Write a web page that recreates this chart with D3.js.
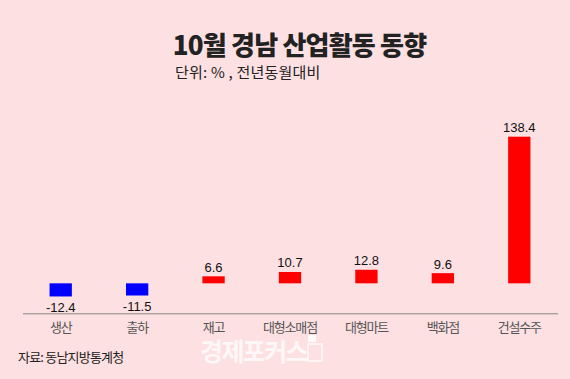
<!DOCTYPE html>
<html>
<head>
<meta charset="utf-8">
<script src="https://d3js.org/d3.v7.min.js"></script>
<style>
body { margin: 0; background: #fde0e1; }
svg { display: block; font-family: "Noto Sans CJK KR", "Noto Sans", sans-serif; }
</style>
</head>
<body>
<script>
var width = 570, height = 379;

var categories = ["생산", "출하", "재고", "대형소매점", "대형마트", "백화점", "건설수주"];
var values = [-12.4, -11.5, 6.6, 10.7, 12.8, 9.6, 138.4];

var svg = d3.select("body").append("svg")
  .attr("width", width)
  .attr("height", height);

svg.append("rect")
  .attr("width", width).attr("height", height)
  .attr("fill", "#fde0e1");

// title
svg.append("text")
  .attr("x", 299.5).attr("y", 55)
  .attr("text-anchor", "middle")
  .attr("font-size", 26)
  .attr("font-weight", 900)
  .attr("letter-spacing", -0.8)
  .attr("fill", "#222")
  .text("10월 경남 산업활동 동향");

svg.append("text")
  .attr("x", 175).attr("y", 78)
  .attr("font-size", 15)
  .attr("letter-spacing", 0.2)
  .attr("fill", "#222")
  .text("단위: % , 전년동월대비");

var x = d3.scaleBand()
  .domain(categories)
  .range([22.5, 557.5])
  .paddingInner(0.708)
  .paddingOuter(0.354);

var y = d3.scaleLinear()
  .domain([-28.3, 138.4])
  .range([313.3, 136.7]);

var g = svg.append("g");

g.selectAll("rect.bar")
  .data(values)
  .enter()
  .append("rect")
  .attr("class", "bar")
  .attr("x", function(d, i) { return x(categories[i]); })
  .attr("width", x.bandwidth())
  .attr("y", function(d) { return y(Math.max(0, d)); })
  .attr("height", function(d) { return Math.abs(y(d) - y(0)); })
  .attr("fill", function(d) { return d < 0 ? "#0000ff" : "#ff0000"; });

g.selectAll("text.val")
  .data(values)
  .enter()
  .append("text")
  .attr("class", "val")
  .attr("x", function(d, i) { return x(categories[i]) + x.bandwidth() / 2; })
  .attr("y", function(d) { return d < 0 ? y(d) + 15.5 : y(d) - 4.5; })
  .attr("text-anchor", "middle")
  .attr("font-family", "'Liberation Sans', Arial, sans-serif")
  .attr("font-size", 13)
  .attr("fill", "#111")
  .text(function(d) { return d; });

// bottom axis
var axis = svg.append("g")
  .attr("transform", "translate(0," + y(-28.3) + ")")
  .call(d3.axisBottom(x).tickSize(0).tickPadding(9));
axis.select(".domain").attr("stroke", "#888").attr("stroke-width", 1);
axis.selectAll("text")
  .attr("font-family", "'Noto Sans CJK KR', sans-serif")
  .attr("font-size", 13)
  .attr("letter-spacing", -1.2)
  .attr("fill", "#555");

svg.append("text")
  .attr("x", 18).attr("y", 362)
  .attr("font-size", 13)
  .attr("letter-spacing", -0.8)
  .attr("fill", "#222")
  .text("자료: 동남지방통계청");

// watermark
svg.append("text")
  .attr("x", 200).attr("y", 361)
  .attr("font-size", 25)
  .attr("font-weight", "bold")
  .attr("letter-spacing", -1.6)
  .attr("fill", "#fff")
  .attr("fill-opacity", 0.75)
  .text("경제포커스");
svg.append("rect")
  .attr("x", 308).attr("y", 335).attr("width", 8).attr("height", 7)
  .attr("fill", "#fff").attr("fill-opacity", 0.8);
svg.append("rect")
  .attr("x", 308).attr("y", 344).attr("width", 14).attr("height", 17)
  .attr("fill", "none")
  .attr("stroke", "#fff").attr("stroke-opacity", 0.6).attr("stroke-width", 2);
</script>
</body>
</html>
